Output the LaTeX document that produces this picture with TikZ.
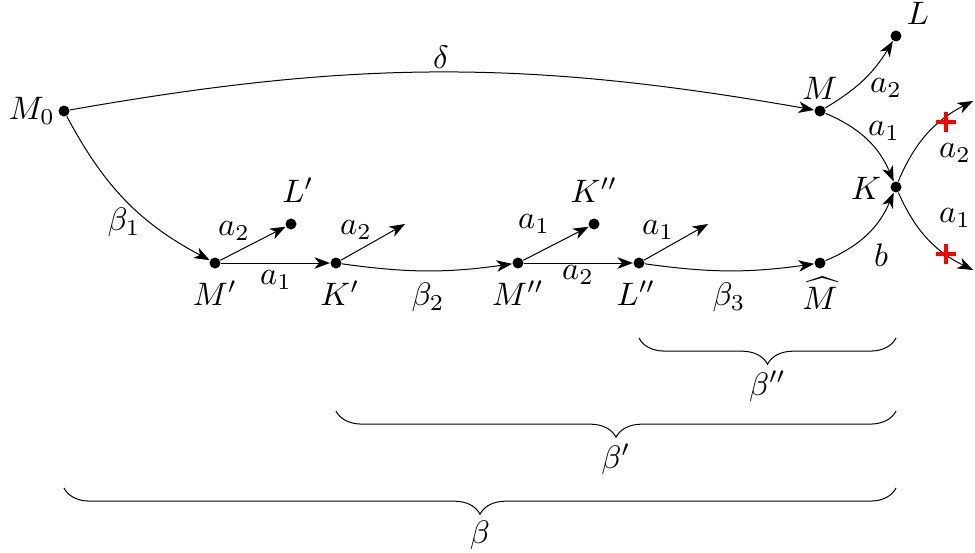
\documentclass[tikz,border=0pt]{standalone}
\usetikzlibrary{arrows.meta,decorations.pathreplacing}
\begin{document}
\begin{tikzpicture}[x=0.4pt,y=-0.4pt,
  dot/.style={circle,fill=black,inner sep=0pt,minimum size=4.4pt},
  arr/.style={-{Stealth[length=6.2pt,width=4.6pt,inset=1.8pt]}},
  lbl/.style={inner sep=0pt,scale=1.3},
  brc/.style={decorate,decoration={brace,mirror,amplitude=10.5pt}},
  crossmark/.style={red,line width=1.3pt}]
\useasboundingbox (0,0) rectangle (975,553);
% points
\node[dot] (M0) at (64,111) {};
\node[dot] (M) at (820,111) {};
\node[dot] (L) at (896,36) {};
\node[dot] (K) at (896,187) {};
\node[dot] (Mp) at (215,263) {};
\node[dot] (Lp) at (291,224) {};
\node[dot] (Kp) at (336,263) {};
\node[dot] (Mpp) at (518,263) {};
\node[dot] (Kpp) at (594,224) {};
\node[dot] (Lpp) at (639,263) {};
\node[dot] (Mh) at (820,263) {};
\coordinate (E1) at (405,224);
\coordinate (E2) at (708,224);
\coordinate (E3) at (973,101);
\coordinate (E4) at (973,270);
% edges
\draw[arr] (M0) to[bend left=10] (M);
\draw[arr] (M0) to[out=-62,in=152] (Mp);
\draw[arr] (Mp) -- (Kp);
\draw[arr] (Mp) -- (Lp);
\draw[arr] (Kp) -- (E1);
\draw[arr] (Kp) to[bend right=8] (Mpp);
\draw[arr] (Mpp) -- (Kpp);
\draw[arr] (Mpp) -- (Lpp);
\draw[arr] (Lpp) -- (E2);
\draw[arr] (Lpp) to[bend right=8] (Mh);
\draw[arr] (Mh) to[bend right=22] (K);
\draw[arr] (M) to[bend left=22] (K);
\draw[arr] (M) to[bend right=14] (L);
\draw[arr] (K) to[bend left=20] (E3);
\draw[arr] (K) to[bend right=20] (E4);
% red crosses
\coordinate (X1) at (946,122);
\coordinate (X2) at (946,254);
\draw[crossmark] ([xshift=-4pt]X1) -- ([xshift=4pt]X1) ([yshift=-4pt]X1) -- ([yshift=4pt]X1);
\draw[crossmark] ([xshift=-4pt]X2) -- ([xshift=4pt]X2) ([yshift=-4pt]X2) -- ([yshift=4pt]X2);
% labels
\node[lbl] (tM0) at (32,111) {$M_0$};
\node[lbl] (td) at (441,57) {$\delta$};
\node[lbl] (tb1) at (124,222) {$\beta_1$};
\node[lbl] (ta1) at (234,231) {$a_2$};
\node[lbl] (tLp) at (298,190) {$L'$};
\node[lbl] (ta2) at (276,280) {$a_1$};
\node[lbl] (tMp) at (215,293) {$M'$};
\node[lbl] (tKp) at (340,293) {$K'$};
\node[lbl] (ta3) at (356,230) {$a_2$};
\node[lbl] (tb2) at (428,297) {$\beta_2$};
\node[lbl] (tMpp) at (518,293) {$M''$};
\node[lbl] (ta4) at (534,224) {$a_1$};
\node[lbl] (tKpp) at (594,190) {$K''$};
\node[lbl] (ta5) at (578,275) {$a_2$};
\node[lbl] (tLpp) at (636,293) {$L''$};
\node[lbl] (ta6) at (658,230) {$a_1$};
\node[lbl] (tb3) at (729,297) {$\beta_3$};
\node[lbl] (tMh) at (820,293) {$\widehat{M}$};
\node[lbl] (tb) at (881,255) {$b$};
\node[lbl] (tK) at (866,188) {$K$};
\node[lbl] (tM) at (820,88) {$M$};
\node[lbl] (ta7) at (886,88) {$a_2$};
\node[lbl] (ta8) at (884,131) {$a_1$};
\node[lbl] (tL) at (918,13) {$L$};
\node[lbl] (ta9) at (955,153) {$a_2$};
\node[lbl] (ta10) at (955,218) {$a_1$};
% braces
\coordinate (B1a) at (639,338);
\coordinate (B1b) at (896,338);
\coordinate (B2a) at (336,411);
\coordinate (B2b) at (896,411);
\coordinate (B3a) at (64,488);
\coordinate (B3b) at (896,488);
\draw[brc] (B1a) -- (B1b) node[midway,below=13pt,lbl] (tbpp) {$\beta''$};
\draw[brc] (B2a) -- (B2b) node[midway,below=13pt,lbl] (tbp) {$\beta'$};
\draw[brc] (B3a) -- (B3b) node[midway,below=13pt,lbl] (tbeta) {$\beta$};
\end{tikzpicture}
\end{document}
